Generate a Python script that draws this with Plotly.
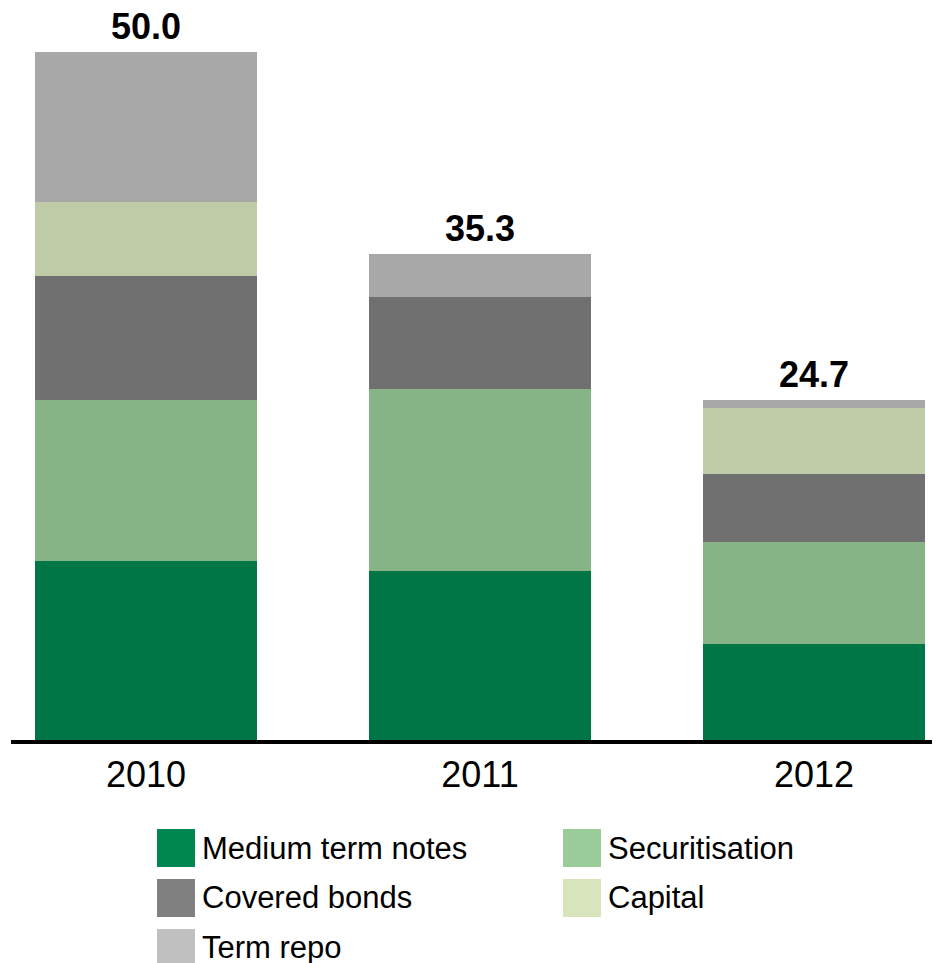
import plotly.graph_objects as go

# Funding by type, per year
years = ['2010', '2011', '2012']
medium_term_notes = [13.0, 12.3, 7.0]
securitisation = [11.7, 13.2, 7.4]
covered_bonds = [9.0, 6.7, 4.9]
capital = [5.4, 0.0, 4.8]
term_repo = [10.9, 3.1, 0.6]

series = [
    ('Medium term notes', medium_term_notes, '#007647', '#00874F'),
    ('Securitisation', securitisation, '#86B486', '#99CC99'),
    ('Covered bonds', covered_bonds, '#707070', '#808080'),
    ('Capital', capital, '#BFCAA6', '#D8E4BC'),
    ('Term repo', term_repo, '#A8A8A8', '#C0C0C0'),
]

# page body adds an 8px offset, so the figure is a bit smaller than the window
OFF = 8
W, H = 940 - OFF, 963 - OFF
L = 11 - OFF
PLOT_H = 740 - OFF
B = H - PLOT_H
PLOT_W = W - L
FONT = 'Arial, Liberation Sans, sans-serif'

x_pos = list(range(len(years)))
fig = go.Figure()
for name, vals, bar_col, _ in series:
    fig.add_trace(go.Bar(x=x_pos, y=vals, name=name, width=0.666,
                         marker=dict(color=bar_col, line=dict(width=0)),
                         showlegend=False, hoverinfo='name+y'))

# totals above each bar
totals = [sum(v) for v in zip(*[s[1] for s in series])]
for i, t in enumerate(totals):
    fig.add_annotation(x=i, y=t, text=f'<b>{t:.1f}</b>', showarrow=False,
                       yanchor='bottom', yshift=4, borderpad=0,
                       font=dict(family=FONT, size=36, color='black'))

# screen pixel -> paper helpers for the hand-drawn legend
def px_x(p):
    return (p - OFF - L) / PLOT_W

def px_y(p):
    return (PLOT_H - (p - OFF)) / PLOT_H

legend_slots = [(157, 829), (563, 829), (157, 879), (563, 879), (157, 929)]
for (sx, sy), (name, _, _, leg_col) in zip(legend_slots, series):
    fig.add_shape(type='rect', xref='paper', yref='paper',
                  x0=px_x(sx), x1=px_x(sx + 38), y0=px_y(sy + 38), y1=px_y(sy),
                  fillcolor=leg_col, line=dict(width=0))
    fig.add_annotation(xref='paper', yref='paper', x=px_x(sx + 44), y=px_y(sy + 19),
                       text=name, showarrow=False, xanchor='left', yanchor='middle',
                       borderpad=0, font=dict(family=FONT, size=31, color='black'))

fig.update_layout(
    barmode='stack',
    width=W, height=H,
    margin=dict(l=L, r=0, t=0, b=B),
    plot_bgcolor='white', paper_bgcolor='white',
    font=dict(family=FONT, color='black'),
    xaxis=dict(range=[-(146 - 11) / 334, (940 - 146) / 334], tickvals=x_pos, ticktext=years,
               showline=True, linecolor='black', linewidth=4, showgrid=False,
               zeroline=False, ticks='', tickfont=dict(size=36, family=FONT)),
    yaxis=dict(range=[0, PLOT_H / 13.766], visible=False, showgrid=False),
)

fig.write_html('out.html')
